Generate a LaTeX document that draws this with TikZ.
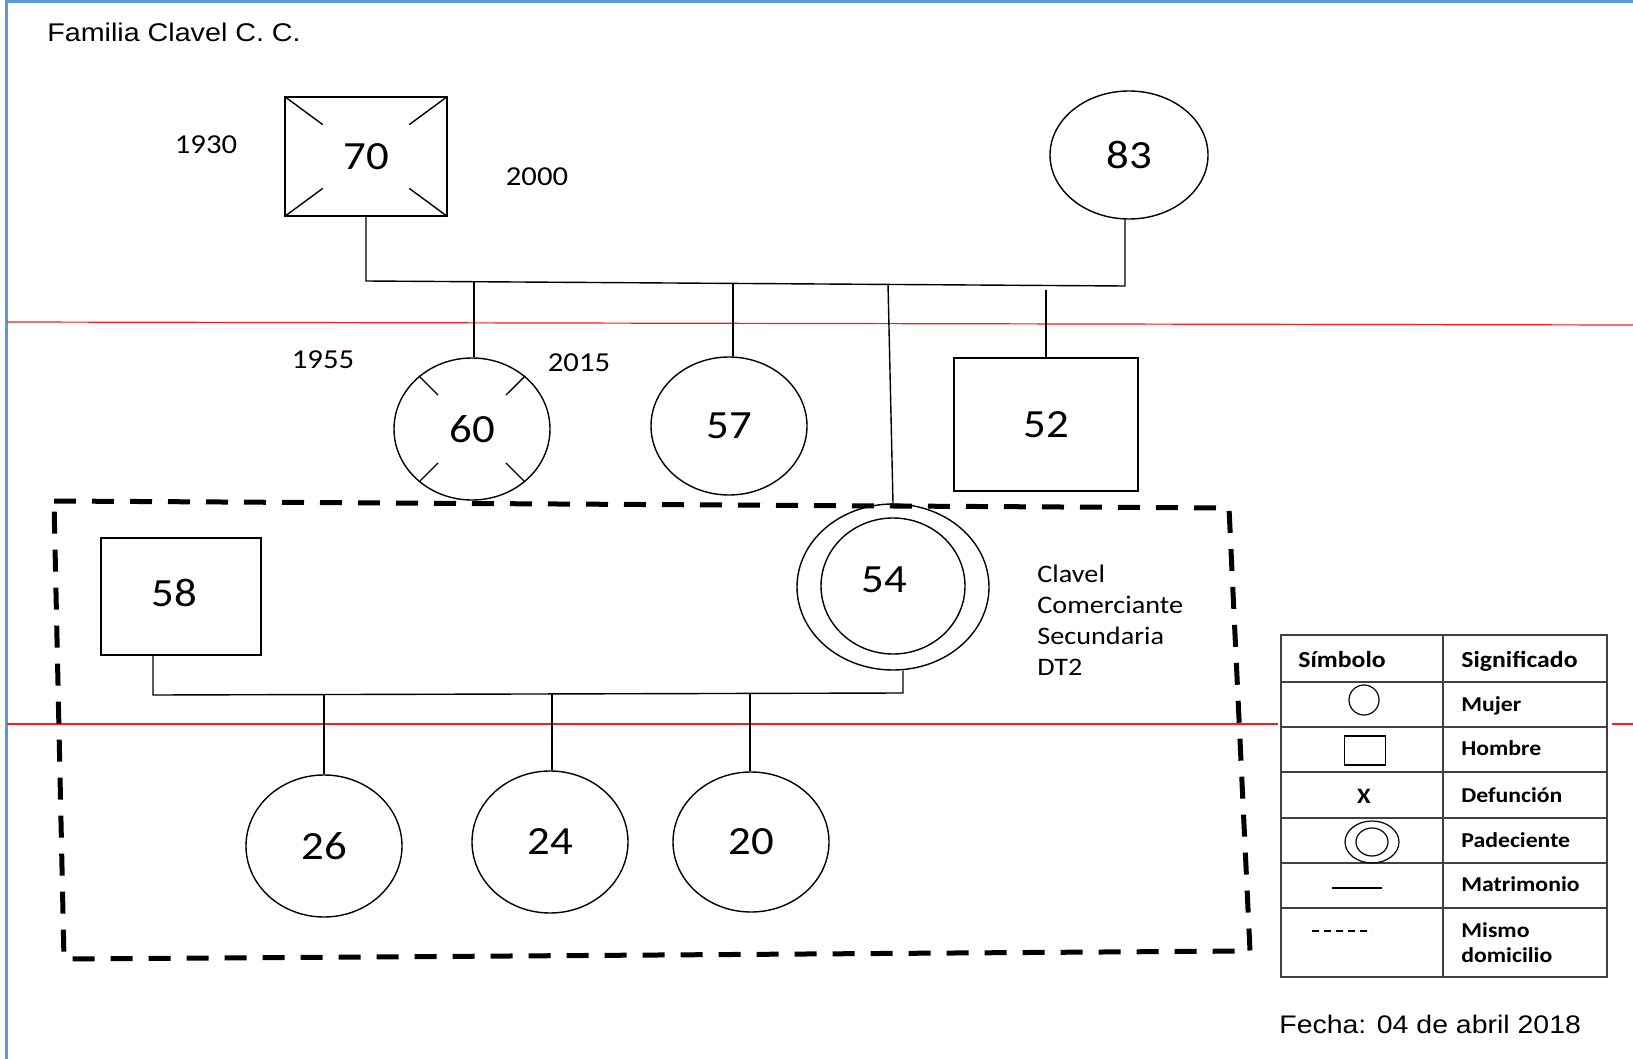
\documentclass[tikz,border=0pt]{standalone}
\usepackage{fontspec}
\setmainfont{Carlito}[FakeStretch=1.12]
\newfontfamily\arialfont{Liberation Sans}[FakeStretch=1.12]
\usetikzlibrary{positioning,shapes.geometric,calc}
\definecolor{marco}{RGB}{91,155,213}

\tikzset{
  rel/.style={line width=0.7pt},
  edad/.style={font=\fontsize{20}{24}\selectfont},
  hombre/.style={draw,rectangle,line width=0.7pt,inner sep=0pt,edad},
  mujer/.style={draw,ellipse,line width=0.7pt,inner sep=0pt,edad},
  anio/.style={font=\fontsize{13.7}{16}\selectfont},
  generacion/.style={draw=red!90!white,line width=0.6pt},
  domicilio/.style={line width=2.5pt,dash pattern=on 11pt off 8pt},
  tabla/.style={draw=black!75,line width=1pt},
  leyenda/.style={font=\bfseries\fontsize{10.6}{12.5}\selectfont,anchor=base west,inner sep=0pt},
  simbolo/.style={draw,line width=0.6pt,inner sep=0pt},
}

\begin{document}
\begin{tikzpicture}[x=0.5pt,y=-0.5pt]
\useasboundingbox (0,0) rectangle (1633,1059);
\draw[marco,line width=1.5pt] (6,1059) -- (6,1.5) -- (1633,1.5);

% lineas de generacion
\draw[generacion] (7,322) -- (1633,325);
\draw[generacion] (7,724) -- (1278,724);
\draw[generacion] (1612,724) -- (1633,724);

\node[font=\arialfont\fontsize{12.8}{15}\selectfont,anchor=west,inner sep=0pt] (titulo) at (47,32) {Familia Clavel C. C.};

% abuelos
\node[hombre,minimum width=81pt,minimum height=59.5pt] (p70) at (366,156.5) {70};
\node[mujer,minimum width=79pt,minimum height=64pt] (p83) at (1129,155) {83};
\node[anio] (n1930) at (206,145) {1930};
\node[anio] (n2000) at (537,177) {2000};
\foreach \esq in {north west,north east,south west,south east}
  \draw[rel] (p70.\esq) -- ($(p70.\esq)!0.47!(p70.center)$);

% hijos
\node[mujer,minimum width=78pt,minimum height=71pt] (p60) at (472,429) {\raisebox{-2.5pt}{60}};
\node[mujer,minimum width=78pt,minimum height=69pt] (p57) at (729,426) {57};
\node[hombre,minimum width=92pt,minimum height=66.5pt] (p52) at (1046,424.5) {52};
\node[anio] (n1955) at (323,360) {1955};
\node[anio] (n2015) at (579,363) {2015};
\foreach \ang in {45,135,225,315}
  \draw[rel] (p60.\ang) -- ($(p60.\ang)!0.36!(p60.center)$);

\coordinate (u1) at (366,281);
\coordinate (u2) at (1125,286);
\draw[rel] (p70.south) -- (u1) -- (u2) -- (u2 |- p83.south);
\coordinate (d60) at (474,282);
\coordinate (d57) at (733,284);
\coordinate (d54) at (888,284);
\coordinate (d52) at (1046,290);
\draw[rel] (d60) -- (d60 |- p60.north);
\draw[rel] (d57) -- (d57 |- p57.north);
\draw[rel] (d52) -- (p52.north);

% paciente y pareja
\node[hombre,minimum width=80pt,minimum height=58.5pt] (p58) at (181,596.5) {};
\node[edad] (t58) at (174,593) {58};
\node[mujer,minimum width=96pt,minimum height=83pt] (p54) at (893,587) {};
\node[mujer,minimum width=72pt,minimum height=68pt] (p54i) at (893,586) {};
\node[edad] (t54) at (884,580) {54};
\draw[rel] (d54) -- (p54.north);
\node[align=left,anchor=north west,inner sep=0pt,font=\fontsize{12.6}{15.5}\selectfont] (datos) at (1037,565) {Clavel\\Comerciante\\Secundaria\\DT2};

\coordinate (w1) at (153,695);
\coordinate (w2) at (903,693);
\draw[rel] (w1 |- p58.south) -- (w1) -- (w2) -- (w2 |- p54.south);

% nietos
\node[mujer,minimum width=78pt,minimum height=71pt] (p26) at (324,846) {26};
\node[mujer,minimum width=78pt,minimum height=71pt] (p24) at (550,842) {24};
\node[mujer,minimum width=78pt,minimum height=70pt] (p20) at (751,842) {20};
\coordinate (d26) at (324,695);
\coordinate (d24) at (552,694);
\coordinate (d20) at (750,694);
\draw[rel] (d26) -- (p26.north);
\draw[rel] (d24) -- (d24 |- p24.north);
\draw[rel] (d20) -- (d20 |- p20.north);

% mismo domicilio
\draw[domicilio] (54,501) -- (1229,508) -- (1250,951) -- (64,959) -- cycle;

% simbologia
\draw[tabla] (1281,635) rectangle (1607,977);
\foreach \y in {682,727,772,818,863,908}
  \draw[tabla] (1281,\y) -- (1607,\y);
\draw[tabla] (1443,635) -- (1443,977);
\node[leyenda,font=\bfseries\fontsize{11.5}{14}\selectfont] (hSim) at (1298,667) {Símbolo};
\node[leyenda,font=\bfseries\fontsize{11.5}{14}\selectfont] (hSig) at (1461,667) {Significado};
\node[simbolo,circle,minimum size=15pt] (sMujer) at (1364,700) {};
\node[simbolo,rectangle,minimum width=20.5pt,minimum height=14.5pt] (sHombre) at (1365,750.5) {};
\node[font=\bfseries\fontsize{11}{13}\selectfont,inner sep=0pt] (sDef) at (1364,796) {X};
\node[simbolo,ellipse,minimum width=27pt,minimum height=21pt] (sPad) at (1372,842) {};
\node[simbolo,ellipse,minimum width=16pt,minimum height=14pt] (sPadi) at (sPad) {};
\draw[line width=0.7pt] (1332,888) -- (1382,888);
\draw[line width=0.7pt,dash pattern=on 3.5pt off 2.5pt] (1312,931) -- (1372,931);
\node[leyenda] (lMujer) at (1461,711) {Mujer};
\node[leyenda] (lHombre) at (1461,755) {Hombre};
\node[leyenda] (lDef) at (1461,802) {Defunción};
\node[leyenda] (lPad) at (1461,847) {Padeciente};
\node[leyenda] (lMat) at (1461,891) {Matrimonio};
\node[leyenda,align=left,anchor=north west] (lDom) at (1461,922) {Mismo\\domicilio};

\node[font=\arialfont\fontsize{12.7}{15}\selectfont,anchor=west,inner sep=0pt] (fecha) at (1279,1024) {Fecha: 04 de abril 2018};
\end{tikzpicture}
\end{document}
